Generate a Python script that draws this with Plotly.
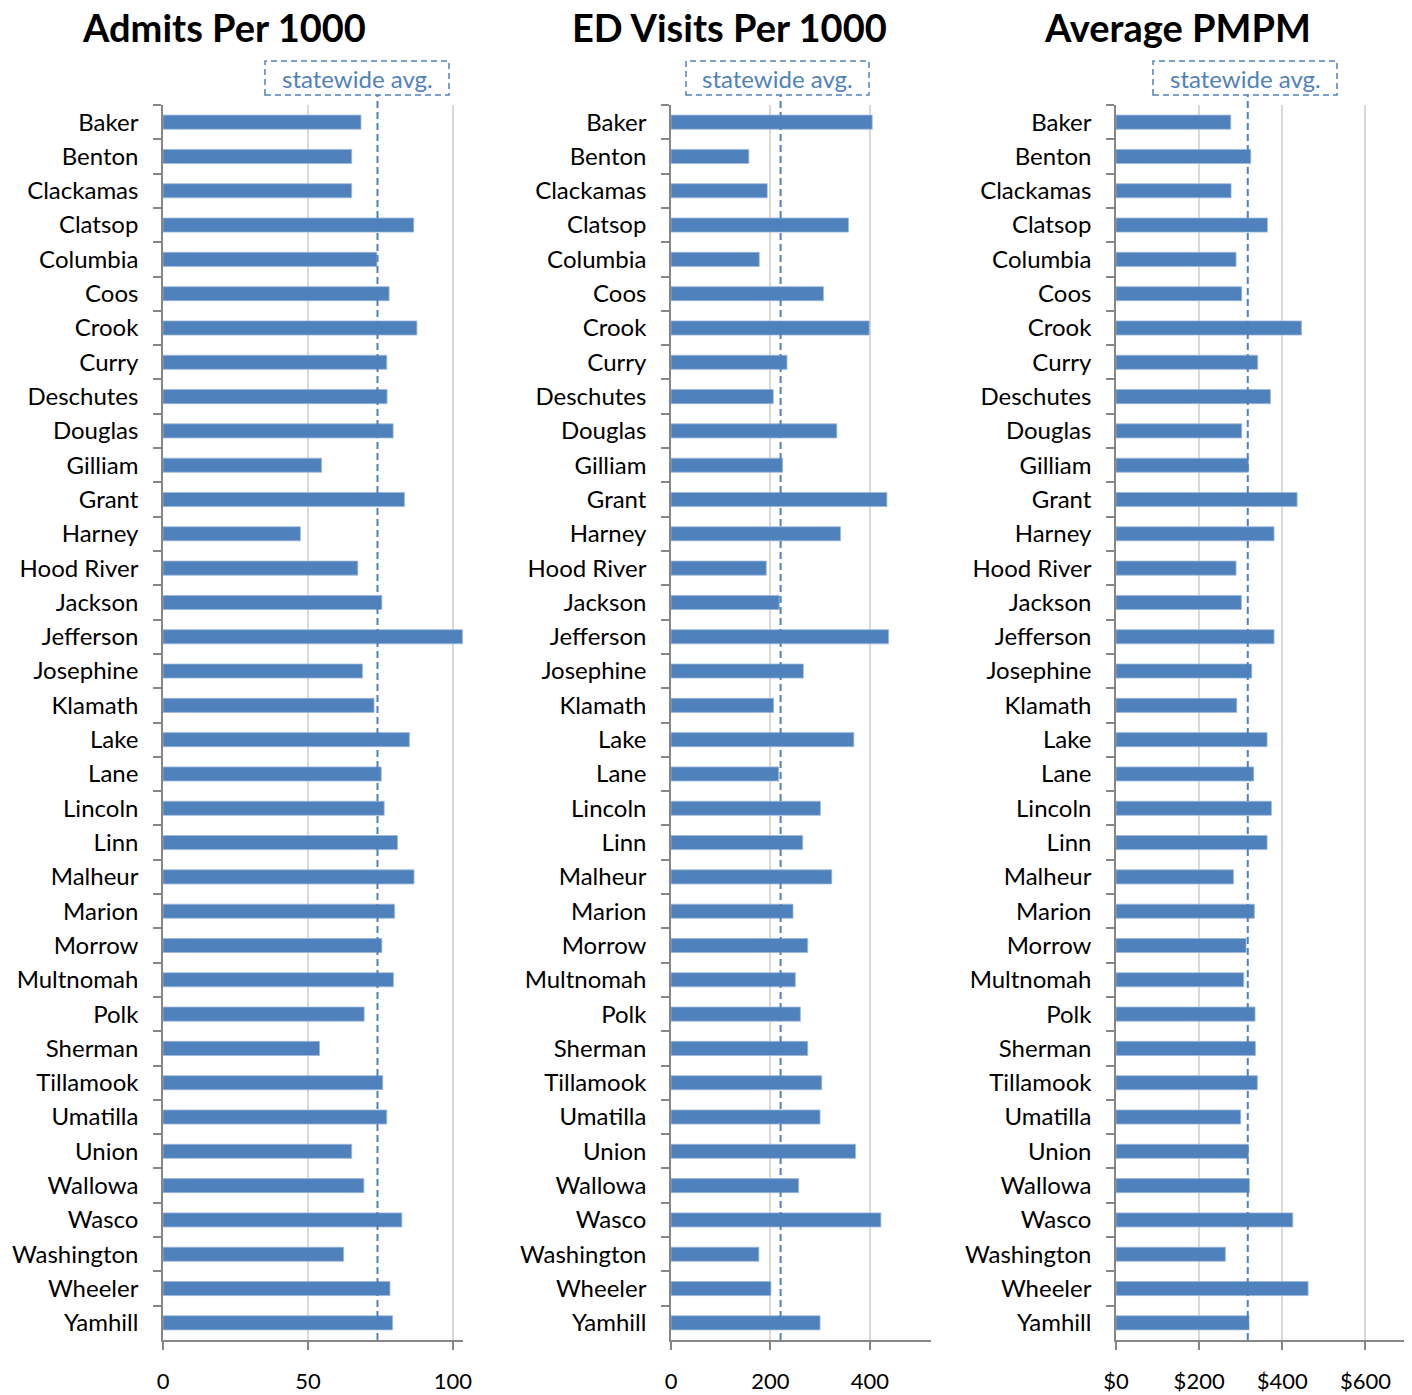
import plotly.graph_objects as go
from plotly.subplots import make_subplots

# ---- data ----
COUNTIES = [
    "Baker", "Benton", "Clackamas", "Clatsop", "Columbia", "Coos", "Crook", "Curry",
    "Deschutes", "Douglas", "Gilliam", "Grant", "Harney", "Hood River", "Jackson",
    "Jefferson", "Josephine", "Klamath", "Lake", "Lane", "Lincoln", "Linn", "Malheur",
    "Marion", "Morrow", "Multnomah", "Polk", "Sherman", "Tillamook", "Umatilla",
    "Union", "Wallowa", "Wasco", "Washington", "Wheeler", "Yamhill",
]

ADMITS = [
    68.3, 65.1, 65.1, 86.5, 73.8, 78.0, 87.6, 77.2, 77.3, 79.4, 54.7, 83.3,
    47.4, 67.2, 75.5, 103.3, 68.8, 72.8, 85.0, 75.3, 76.3, 80.9, 86.6, 79.9,
    75.5, 79.5, 69.4, 54.0, 75.8, 77.2, 65.1, 69.3, 82.4, 62.3, 78.3, 79.2,
]

ED_VISITS = [
    404.7, 156.6, 193.6, 357.0, 177.5, 306.6, 398.7, 233.3, 205.7, 333.5, 224.5, 434.3,
    340.9, 191.6, 217.8, 437.7, 266.2, 206.4, 367.7, 216.5, 300.5, 264.9, 323.4, 245.4,
    275.0, 250.1, 260.2, 275.0, 303.2, 299.8, 371.1, 256.8, 422.2, 176.8, 201.0, 299.8,
]

PMPM = [
    276.0, 324.1, 276.8, 364.2, 288.8, 302.4, 446.0, 340.9, 371.4, 302.4, 318.5, 435.6,
    380.2, 288.8, 301.6, 380.2, 326.5, 290.4, 363.4, 331.3, 373.8, 363.4, 282.4, 332.9,
    312.9, 307.2, 334.5, 335.3, 340.1, 300.0, 318.5, 320.9, 425.2, 263.1, 462.1, 320.1,
]

STATEWIDE = [74.0, 220.5, 317.0]
TITLES = ["Admits Per 1000", "ED Visits Per 1000", "Average PMPM"]
X_TICKS = [[0, 50, 100], [0, 200, 400], [0, 200, 400, 600]]
X_TICKTEXT = [
    ["0", "50", "100"],
    ["0", "200", "400"],
    ["$0", "$200", "$400", "$600"],
]
X_MAX = [103.5, 523, 700]

# ---- page geometry (browser body has an 8px margin) ----
OFF = 8
W, H = 1412 - OFF, 1395 - OFF
BLUE = "#4F81BD"
FONT = "Lato"


def px(x):
    return (x - OFF) / W


def py(y):
    return 1 - (y - OFF) / H


x_domains = [(163, 463), (671, 931), (1116, 1407)]
y_domain = [py(1340), py(105)]
title_x = [224, 729, 1177]
box_x = [(265, 449), (686, 869), (1153, 1337)]

fig = make_subplots(rows=1, cols=3)

series = [ADMITS, ED_VISITS, PMPM]
for i, vals in enumerate(series):
    fig.add_trace(go.Bar(
        x=vals, y=COUNTIES, orientation="h",
        marker=dict(color=BLUE, line=dict(color="#9DB7DA", width=0.8)),
        showlegend=False,
    ), row=1, col=i + 1)

for i in range(3):
    n = "" if i == 0 else str(i + 1)
    fig.layout["xaxis" + n].update(
        domain=[px(x_domains[i][0]), px(x_domains[i][1])],
        range=[0, X_MAX[i]],
        tickmode="array", tickvals=X_TICKS[i], ticktext=X_TICKTEXT[i],
        showgrid=True, gridcolor="#D9D9D9", gridwidth=1.5,
        showline=True, linecolor="#868686", linewidth=1.5,
        ticks="outside", ticklen=8, tickwidth=1.5, tickcolor="#868686",
        ticklabelstandoff=13,
        tickfont=dict(family=FONT, size=22, color="black"),
        zeroline=False, automargin=False, fixedrange=True,
    )
    fig.layout["yaxis" + n].update(
        domain=y_domain,
        autorange="reversed",
        showgrid=False,
        showline=True, linecolor="#868686", linewidth=1.5,
        ticks="outside", tickson="boundaries", ticklen=8, tickwidth=1.5,
        tickcolor="#868686",
        ticklabelstandoff=18,
        tickfont=dict(family=FONT, size=24, color="black"),
        automargin=False, fixedrange=True,
    )

    # statewide average line
    fig.add_shape(
        type="line", xref="x" + n, yref="paper",
        x0=STATEWIDE[i], x1=STATEWIDE[i], y0=py(1340), y1=py(95),
        line=dict(color=BLUE, width=2, dash="7px,4px"),
    )
    # dashed label box
    fig.add_shape(
        type="rect", xref="paper", yref="paper",
        x0=px(box_x[i][0]), x1=px(box_x[i][1]), y0=py(95), y1=py(61),
        line=dict(color=BLUE, width=1.5, dash="6px,4px"),
        fillcolor="rgba(0,0,0,0)",
    )
    fig.add_annotation(
        x=px((box_x[i][0] + box_x[i][1]) / 2), y=py(78),
        xref="paper", yref="paper", xanchor="center", yanchor="middle",
        text="statewide avg.", showarrow=False,
        font=dict(family=FONT, size=24, color=BLUE),
    )
    # panel title
    fig.add_annotation(
        x=px(title_x[i]), y=py(27),
        xref="paper", yref="paper", xanchor="center", yanchor="middle",
        text="<b>" + TITLES[i] + "</b>", showarrow=False,
        font=dict(family=FONT, size=38, color="black"),
    )

fig.update_layout(
    width=W, height=H,
    margin=dict(l=0, r=0, t=0, b=0),
    paper_bgcolor="white", plot_bgcolor="white",
    bargap=0.59,
    font=dict(family=FONT, color="black"),
)

fig.write_html("out.html")
